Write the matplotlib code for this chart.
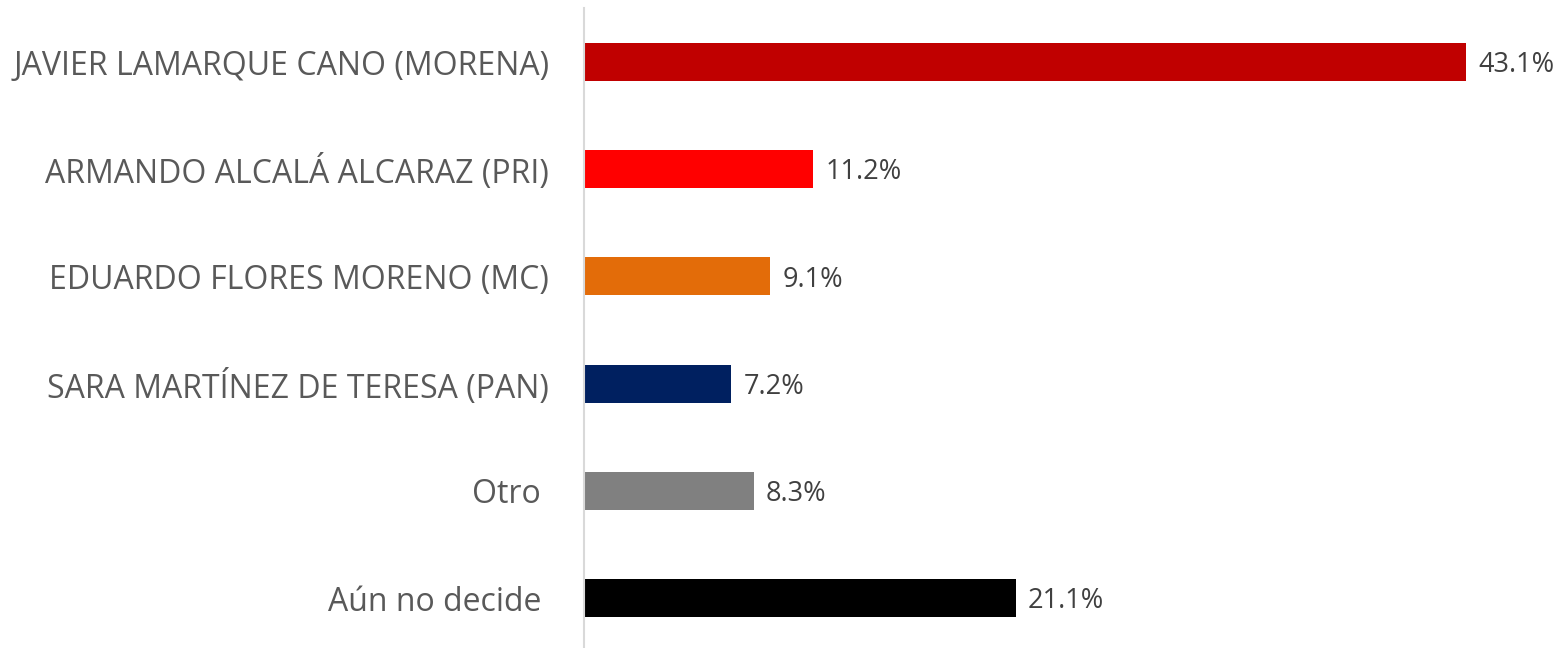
import matplotlib
matplotlib.use("Agg")
import matplotlib.pyplot as plt

categories = ["JAVIER LAMARQUE CANO (MORENA)", "ARMANDO ALCALÁ ALCARAZ (PRI)",
              "EDUARDO FLORES MORENO (MC)", "SARA MARTÍNEZ DE TERESA (PAN)",
              "Otro ", "Aún no decide "]
values = [43.1, 11.2, 9.1, 7.2, 8.3, 21.1]
colors = ["#C00000", "#FF0000", "#E36C09", "#002060", "#808080", "#000000"]

plt.rcParams['font.family'] = ['Open Sans', 'DejaVu Sans']

W, H = 1563, 648
fig = plt.figure(figsize=(W / 100, H / 100), dpi=100)
ax = fig.add_axes([584 / W, 0, 1 - 584 / W, 640 / H])

n = len(categories)
ypos = list(range(n))
ax.barh(ypos, values, height=0.355, color=colors)
top = -0.504
ax.set_ylim(top + 640 / 107.2, top)
ax.set_xlim(0, (W - 584) / 20.46)

for y, v in zip(ypos, values):
    ax.text(v + 0.6, y + 0.03, f"{v:.1f}%", va="center", ha="left",
            fontsize=19.5, color="#404040")

ax.set_yticks(ypos)
ax.set_yticklabels(categories, fontsize=23, color="#595959")
ax.tick_params(axis="y", length=0, pad=25)
ax.set_xticks([])
for s in ["top", "right", "bottom"]:
    ax.spines[s].set_visible(False)
ax.spines["left"].set_color("#D9D9D9")
ax.spines["left"].set_linewidth(1.5)

fig.savefig("out.png", dpi=100)
